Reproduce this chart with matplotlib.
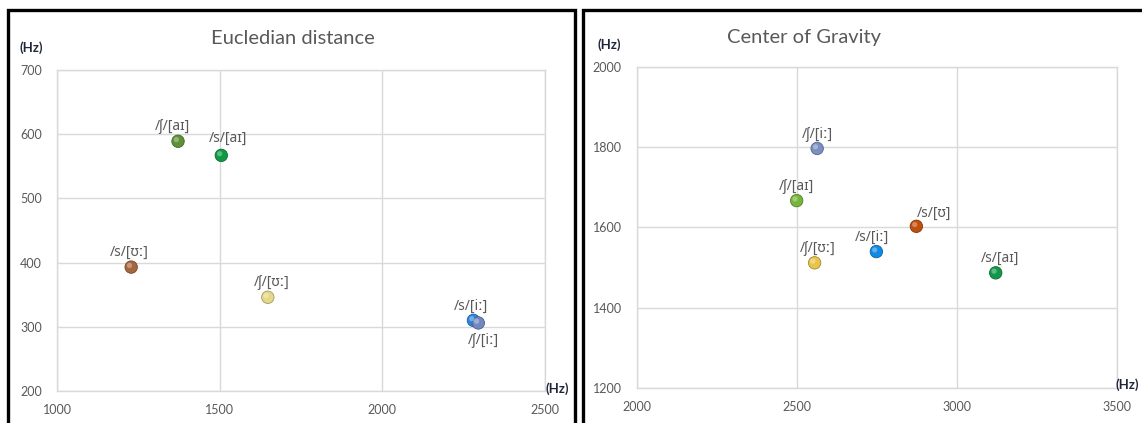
import matplotlib
matplotlib.use("Agg")
import matplotlib.pyplot as plt
from matplotlib.patches import Rectangle
import matplotlib.transforms as mtransforms

plt.rcParams['font.family'] = ['Lato', 'Noto Sans', 'DejaVu Sans']

# Eucledian distance
ed_labels = ['/ʃ/[aɪ]', '/s/[aɪ]', '/s/[ʊː]', '/ʃ/[ʊː]', '/s/[iː]', '/ʃ/[iː]']
ed_x = [1372, 1505, 1228, 1648, 2280, 2295]
ed_y = [589, 567, 393, 346, 310, 306]
ed_colors = ['#5f9237', '#0f9a44', '#a8663e', '#e6d88a', '#2a86e0', '#7088bf']
ed_offsets = [(-4, 5), (5, 7), (-1, 5), (3, 5), (-2, 5), (4, -7)]

# Center of Gravity
cg_labels = ['/ʃ/[iː]', '/ʃ/[aɪ]', '/s/[ʊ]', '/s/[iː]', '/ʃ/[ʊː]', '/s/[aɪ]']
cg_x = [2563, 2499, 2873, 2748, 2555, 3121]
cg_y = [1797, 1667, 1603, 1540, 1512, 1487]
cg_colors = ['#7d8fc2', '#76b43a', '#c04e0c', '#118ae6', '#e8c44a', '#12984a']
cg_offsets = [(0, 5), (0, 5), (13, 4), (-3, 5), (2, 5), (3, 5)]

grey = '#595959'
grid = '#d9d9d9'

fig = plt.figure(figsize=(11.42, 4.23), dpi=100)
W, H = 1142, 423


def lighten(c, f=0.55):
    r, g, b = matplotlib.colors.to_rgb(c)
    return (r + (1 - r) * f, g + (1 - g) * f, b + (1 - b) * f)


def darken(c, f=0.7):
    r, g, b = matplotlib.colors.to_rgb(c)
    return (r * f, g * f, b * f)


def panel(rect, xs, ys, labels, colors, offsets, xlim, ylim, xticks, yticks):
    ax = fig.add_axes(rect)
    ax.set_xlim(*xlim)
    ax.set_ylim(*ylim)
    ax.set_xticks(xticks)
    ax.set_yticks(yticks)
    ax.grid(True, color=grid, linewidth=1.0)
    ax.set_axisbelow(True)
    for s in ax.spines.values():
        s.set_color(grid)
        s.set_linewidth(1.0)
    ax.tick_params(length=0, labelsize=9, labelcolor=grey, pad=9)
    ax.tick_params(axis='y', pad=11)
    ax.scatter(xs, ys, s=80, c=colors, edgecolors=[darken(c) for c in colors],
               linewidths=0.6, zorder=3)
    hl = mtransforms.offset_copy(ax.transData, fig=fig, x=-1.2, y=1.2, units='points')
    ax.scatter(xs, ys, s=14, c=[lighten(c) for c in colors], edgecolors='none',
               alpha=0.6, transform=hl, zorder=4)
    for x, y, t, off in zip(xs, ys, labels, offsets):
        ax.annotate(t, (x, y), xytext=off, textcoords='offset points',
                    ha='center', va='bottom' if off[1] > 0 else 'top',
                    fontsize=10, color=grey, family=['Noto Sans', 'DejaVu Sans'])
    return ax


panel([57 / W, 1 - 391 / H, 488 / W, 321 / H], ed_x, ed_y, ed_labels, ed_colors,
      ed_offsets, (1000, 2500), (200, 700), [1000, 1500, 2000, 2500],
      [200, 300, 400, 500, 600, 700])
panel([637 / W, 1 - 388 / H, 480 / W, 321 / H], cg_x, cg_y, cg_labels, cg_colors,
      cg_offsets, (2000, 3500), (1200, 2000), [2000, 2500, 3000, 3500],
      [1200, 1400, 1600, 1800, 2000])

# titles
fig.text(293 / W, 1 - 38 / H, 'Eucledian distance', ha='center', va='center',
         fontsize=14.5, color=grey)
fig.text(804 / W, 1 - 37 / H, 'Center of Gravity', ha='center', va='center',
         fontsize=14.5, color=grey)

# axis unit labels
hz = dict(fontsize=9.5, fontweight='bold', color='#1f2638', va='center')
fig.text(20 / W, 1 - 48 / H, '(Hz)', ha='left', **hz)
fig.text(546 / W, 1 - 389 / H, '(Hz)', ha='left', **hz)
fig.text(597 / W, 1 - 45 / H, '(Hz)', ha='left', **hz)
fig.text(1116 / W, 1 - 385 / H, '(Hz)', ha='left', **hz)

# panel frames
fig.patches.append(Rectangle((8 / W, -0.1), 567 / W, 1.1 - 10 / H, transform=fig.transFigure,
                             fill=False, edgecolor='black', linewidth=2.4))
fig.patches.append(Rectangle((583 / W, -0.1), 600 / W, 1.1 - 10 / H, transform=fig.transFigure,
                             fill=False, edgecolor='black', linewidth=2.4))

fig.savefig('out.png', dpi=100)
